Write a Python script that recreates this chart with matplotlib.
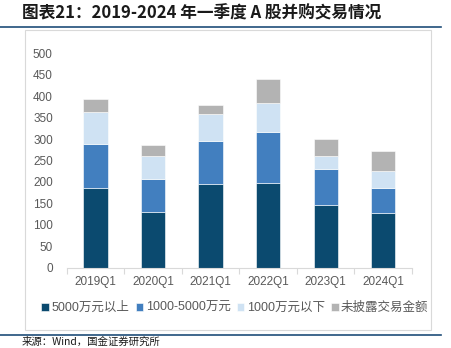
import matplotlib
matplotlib.use("Agg")
import matplotlib.pyplot as plt
from matplotlib.patches import Rectangle
from matplotlib.lines import Line2D
import numpy as np

plt.rcParams['font.family'] = ['Liberation Sans', 'Noto Sans CJK SC', 'DejaVu Sans']

categories = ["2019Q1", "2020Q1", "2021Q1", "2022Q1", "2023Q1", "2024Q1"]
over_5000 = [186, 130, 195, 197, 147, 127]
from_1000_to_5000 = [102, 76, 101, 119, 84, 59]
under_1000 = [75, 55, 62, 69, 30, 39]
undisclosed = [31, 24, 22, 54, 40, 46]
series_names = ["5000万元以上", "1000-5000万元", "1000万元以下", "未披露交易金额"]
yticks = [0, 50, 100, 150, 200, 250, 300, 350, 400, 450, 500]

colors = ["#0B4A6F", "#427FBF", "#CFE2F3", "#B3B3B3"]

W, H = 452, 348
fig = plt.figure(figsize=(W / 100, H / 100), dpi=100)

def fx(px):
    return px / W

def fy(py):
    return 1 - py / H

# frame box
fig.patches.append(Rectangle((fx(25), fy(330)), fx(431) - fx(25), fy(30) - fy(330),
                             transform=fig.transFigure, fill=False,
                             edgecolor="#D9D9D9", linewidth=0.8, zorder=0))
# blue rules
fig.lines.append(Line2D([0, fx(441)], [fy(26.7), fy(26.7)], transform=fig.transFigure,
                        color="#1F4E79", linewidth=1.2))
fig.lines.append(Line2D([0, fx(441)], [fy(335), fy(335)], transform=fig.transFigure,
                        color="#1F4E79", linewidth=1.2))

fig.text(fx(22), fy(13), "图表21：2019-2024 年一季度 A 股并购交易情况",
         fontsize=12, fontweight="bold", color="#1a1a1a", va="center", ha="left",
         family=['Noto Sans CJK SC', 'DejaVu Sans'])
fig.text(fx(22), fy(342), "来源：Wind，国金证券研究所", fontsize=7.5, color="#1a1a1a",
         va="center", ha="left", family=['Noto Sans CJK SC', 'DejaVu Sans'])

ax = fig.add_axes([fx(66.7), fy(267.7), fx(412) - fx(66.7), fy(53.3) - fy(267.7)])
x = np.arange(len(categories))
data = [over_5000, from_1000_to_5000, under_1000, undisclosed]
bottom = np.zeros(len(categories))
handles = []
for vals, c, name in zip(data, colors, series_names):
    b = ax.bar(x, vals, width=0.42, bottom=bottom, color=c, edgecolor="white",
               linewidth=0.4, label=name)
    bottom += np.array(vals)
    handles.append(b)

ax.set_xlim(-0.5, len(categories) - 0.5)
ax.set_ylim(0, 500)
ax.set_yticks(yticks)
ax.set_xticks(x)
ax.set_xticklabels(categories)
ax.set_xticks(np.arange(-0.5, len(categories), 1.0), minor=True)
for s in ["top", "right", "left"]:
    ax.spines[s].set_visible(False)
ax.spines["bottom"].set_color("#D9D9D9")
ax.spines["bottom"].set_linewidth(0.8)
ax.tick_params(axis="y", length=0, labelsize=8.5, labelcolor="#595959", pad=10)
ax.tick_params(axis="x", which="major", length=0, labelsize=8.5, labelcolor="#595959", pad=6)
ax.tick_params(axis="x", which="minor", length=4, color="#D9D9D9", width=0.8)

fig.legend(handles=handles, labels=series_names, loc="center",
           bbox_to_anchor=(fx(235), fy(308)), ncol=4, frameon=False,
           fontsize=9, labelcolor="#595959", handlelength=0.6, handleheight=0.6,
           handletextpad=0.2, columnspacing=0.5, borderaxespad=0)

fig.savefig("out.png", dpi=100)
